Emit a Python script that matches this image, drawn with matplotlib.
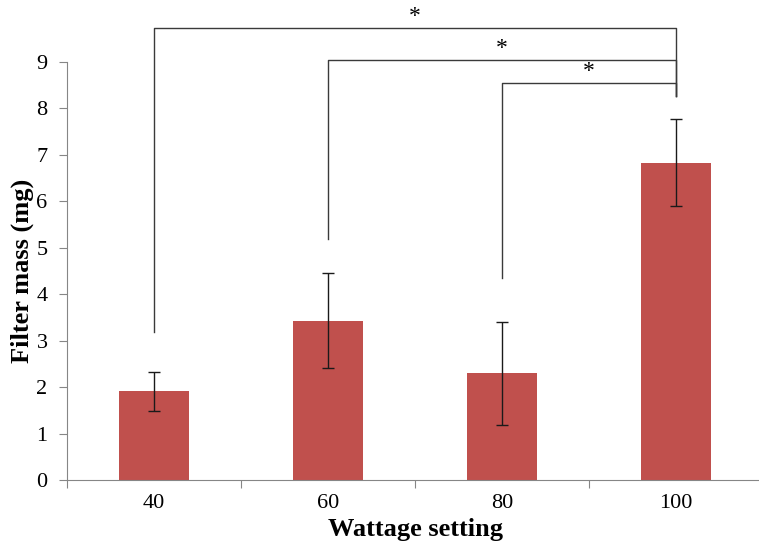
import matplotlib.pyplot as plt

plt.rcParams['font.family'] = ['Liberation Serif', 'DejaVu Serif']

wattage = ["40", "60", "80", "100"]
mass = [1.92, 3.43, 2.31, 6.83]
err_low = [1.48, 2.42, 1.19, 5.89]
err_high = [2.33, 4.46, 3.40, 7.76]

# significance brackets: (left bar, right bar, bar height, left foot, right foot)
brackets = [(0, 3, 9.72, 3.19, 8.26), (1, 3, 9.04, 5.19, 8.26), (2, 3, 8.54, 4.34, 8.26)]

fig = plt.figure(figsize=(7.59, 5.47), dpi=100)
ax = fig.add_axes([0.0883, 0.1225, 0.917, 0.7648])

x = list(range(len(wattage)))
yerr = [[m - lo for m, lo in zip(mass, err_low)], [hi - m for m, hi in zip(mass, err_high)]]
ax.bar(x, mass, width=0.4, color="#C0504D", zorder=2)
ax.errorbar(x, mass, yerr=yerr, fmt="none", ecolor="#1a1a1a", elinewidth=1, capsize=4, capthick=1, zorder=3)

for a, b, h, fa, fb in brackets:
    ax.plot([a, a, b, b], [fa, h, h, fb], color="#3a3a3a", lw=1, clip_on=False, zorder=1)
    ax.text((a + b) / 2, h + 0.02, "*", ha="center", va="bottom", fontsize=17, clip_on=False)

ax.set_xlim(-0.5, 3.5)
ax.set_ylim(0, 9)
ax.set_yticks(range(10))
ax.set_xticks([-0.5, 0.5, 1.5, 2.5, 3.5])
ax.set_xticklabels([])
ax.set_xticks(x, minor=True)
ax.set_xticklabels(wattage, minor=True)
ax.tick_params(axis="x", which="minor", length=0, pad=10, labelsize=16)
ax.tick_params(axis="x", which="major", length=6, color="#868686")
ax.tick_params(axis="y", length=6, color="#868686", labelsize=16, pad=8)

for s in ["top", "right"]:
    ax.spines[s].set_visible(False)
for s in ["left", "bottom"]:
    ax.spines[s].set_color("#868686")

ax.set_xlabel("Wattage setting", fontsize=19, fontweight="bold", labelpad=4)
ax.set_ylabel("Filter mass (mg)", fontsize=19, fontweight="bold", labelpad=2)

fig.savefig("out.png", dpi=100)
